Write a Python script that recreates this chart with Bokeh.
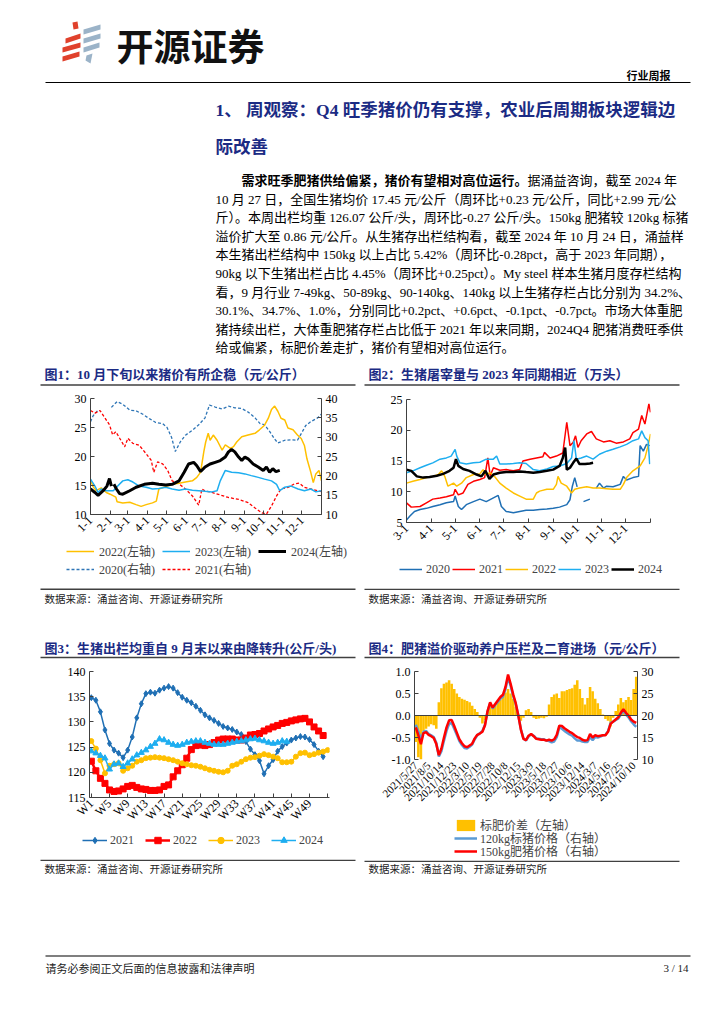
import math
from bokeh.plotting import figure
from bokeh.models import Range1d, LinearAxis, FixedTicker, Legend, LegendItem, Span, NumeralTickFormatter
from bokeh.layouts import column, row
from bokeh.core.properties import value
from bokeh.embed import file_html
from bokeh.resources import INLINE

NAN = float("nan")

# ---------------- Chart 1: daily pig price (day of year) ----------------
C1_TICKS = [0, 31, 59, 90, 120, 151, 181, 212, 243, 273, 304, 334, 365]
C1_LABELS = ["1-1", "2-1", "3-1", "4-1", "5-1", "6-1", "7-1", "8-1", "9-1", "10-1", "11-1", "12-1", ""]
D2020 = [0, 4, 12, NAN, 33, 42, 51, 62, 72, 82, 93, 103, 114, 121, 128, 134, 142, 150, 161, 171, 181, 188, 197, 208, 218, 228, 239, 249, 260, 268, 275, 283, 291, 296, 307, 317, 327, 335, 340, 348, 359, 365]
V2020 = [34.0, 35.5, 37.0, NAN, 37.7, 39.2, 38.5, 37.0, 36.8, 36.0, 34.8, 33.8, 33.5, 32.5, 30.0, 26.3, 28.8, 30.5, 31.8, 33.2, 35.0, 38.3, 37.8, 37.3, 38.0, 37.6, 37.4, 36.5, 35.0, 33.5, 33.2, 31.5, 29.5, 28.5, 29.2, 29.3, 29.2, 31.5, 33.0, 34.0, 35.0, 36.0]
D2021 = [0, 7, 15, 23, 30, 35, 40, 48, 54, 59, 67, 77, 88, 96, 100, 106, 114, 122, 129, 140, 150, 161, 171, 176, 181, 192, 202, 218, 234, 249, 260, 271, 278, 286, 294, 301, 312, 322, 330, 338, 348, 359, 365]
V2021 = [36.9, 36.2, 36.9, 34.9, 33.2, 30.6, 31.4, 29.2, 27.5, 29.7, 28.4, 27.9, 25.7, 24.0, 20.9, 23.6, 23.1, 21.4, 18.7, 17.9, 16.6, 14.8, 12.4, 16.6, 16.1, 15.7, 15.2, 14.4, 13.9, 13.1, 11.7, 10.4, 10.1, 12.2, 14.8, 16.6, 17.0, 17.9, 18.1, 17.0, 16.6, 16.1, 15.9]
D2022 = [0, 4, 9, 17, 25, 31, 40, 42, 51, 62, 72, 80, 88, 98, 104, 108, 119, 129, 140, 150, 161, 168, 174, 179, 182, 186, 189, 194, 200, 208, 213, 221, 226, 231, 239, 249, 260, 267, 275, 281, 286, 291, 296, 301, 307, 312, 320, 327, 333, 338, 342, 348, 352, 356, 361, 365]
V2022 = [16.0, 14.8, 14.1, 14.6, 13.8, 13.5, 13.0, 12.2, 12.0, 12.1, 11.7, 11.4, 11.7, 12.0, 12.3, 14.4, 14.8, 15.2, 15.4, 15.6, 15.8, 16.4, 17.3, 20.8, 22.5, 24.0, 22.8, 23.7, 22.8, 21.1, 22.0, 21.4, 21.7, 22.5, 23.4, 23.7, 24.0, 24.6, 25.4, 26.6, 28.1, 28.7, 27.8, 26.6, 26.3, 24.9, 24.6, 23.7, 23.1, 21.9, 19.6, 17.3, 15.5, 17.0, 17.6, 15.8]
D2023 = [0, 7, 12, 17, 25, 36, 43, 51, 59, 67, 77, 88, 98, 108, 119, 129, 140, 150, 161, 171, 181, 192, 200, 205, 213, 223, 234, 244, 254, 265, 275, 286, 294, 299, 307, 317, 328, 338, 348, 356, 365]
V2023 = [16.1, 14.9, 13.8, 14.4, 14.1, 14.1, 14.9, 15.8, 16.0, 15.6, 14.9, 14.7, 14.4, 14.5, 14.7, 14.4, 14.2, 14.4, 14.2, 14.1, 14.0, 13.9, 14.1, 15.8, 17.6, 17.3, 17.2, 17.0, 16.7, 16.4, 16.1, 15.8, 15.2, 14.1, 14.7, 14.9, 14.4, 14.1, 14.4, 13.9, 14.1]
D2024 = [0, 7, 12, 20, 26, 30, 33, NAN, 37, 41, 46, 51, 62, 72, 85, 98, 108, 119, 129, 140, 148, 155, 163, 168, 174, 181, 189, 197, 205, 213, 218, 223, 228, 234, 239, 244, 249, 257, 265, 273, 278, 283, 288, 293, 299]
V2024 = [14.4, 13.8, 13.3, 14.1, 14.9, 16.2, 14.9, NAN, 15.2, 14.4, 13.6, 13.5, 14.1, 14.7, 15.2, 15.4, 15.2, 15.1, 15.2, 15.8, 17.3, 18.7, 19.0, 18.4, 17.4, 18.2, 18.7, 19.0, 19.3, 19.9, 20.8, 21.2, 20.8, 19.9, 19.3, 19.9, 19.6, 18.7, 18.2, 17.6, 18.2, 17.3, 17.9, 17.4, 17.6]

# ---------------- Chart 2: slaughter volume (days from 3-1) ----------------
C2_TICKS = [0, 31, 61, 92, 122, 153, 184, 214, 245, 275, 306]
C2_LABELS = ["3-1", "4-1", "5-1", "6-1", "7-1", "8-1", "9-1", "10-1", "11-1", "12-1", ""]
E2020 = [0, 4, 10, 17, 25, 33, 42, 50, 59, 61, 65, 69, 75, 84, 92, 100, 109, 115, 119, 125, 134, 142, 150, 159, 167, 176, 184, 192, 201, 205, 208, 211, 214, NAN, 222, 230, NAN, 238, 242, 247, 251, 259, 268, 272, 276, 284, 291, 293, 297, 301, 305]
S2020 = [5.4, 6.0, 6.8, 7.1, 7.3, 7.6, 7.9, 8.2, 8.4, 9.3, 7.6, 7.1, 7.9, 8.4, 8.8, 8.4, 9.0, 9.4, 7.6, 6.8, 6.6, 6.8, 7.0, 7.0, 7.1, 7.2, 7.3, 7.5, 7.9, 8.7, 10.9, 12.3, 10.8, NAN, 8.4, 8.8, NAN, 10.6, 11.4, 10.6, 10.9, 10.8, 11.2, 12.5, 11.9, 12.3, 12.5, 17.5, 16.6, 17.7, 17.5]
E2021 = [0, 6, 17, 25, 33, 42, 50, 59, 61, 65, 71, 77, 84, 92, 98, 102, 105, 109, 117, 125, 134, 142, 146, 155, 163, 171, 173, 180, 188, 196, 201, 205, 209, 212, 215, 219, 226, 232, 238, 247, 255, 263, 272, 280, 284, 291, 295, 299, 304, 306]
S2021 = [8.2, 7.5, 7.6, 8.2, 8.8, 9.0, 9.2, 9.5, 10.4, 9.5, 9.8, 11.2, 11.7, 12.0, 12.3, 15.5, 12.6, 13.9, 13.5, 13.6, 13.4, 13.6, 15.0, 15.3, 15.5, 15.7, 16.4, 15.5, 15.8, 16.3, 21.3, 17.5, 18.0, 19.1, 17.2, 18.3, 19.4, 19.8, 18.6, 18.1, 18.3, 17.9, 18.1, 18.6, 19.6, 20.2, 22.4, 21.0, 24.3, 22.9]
E2022 = [0, 8, 17, 25, 33, 40, 44, 48, 52, 59, 63, 69, 75, 84, 92, 96, 99, 105, 111, 117, 125, 134, 142, 150, 159, 163, 167, 176, 184, 188, 190, 194, 201, 207, 211, 217, 226, 234, 242, 251, 259, 268, 272, 276, 284, 293, 299, 303, 306]
S2022 = [11.4, 11.7, 12.0, 12.3, 12.5, 12.8, 13.4, 12.5, 10.9, 11.4, 10.9, 11.4, 12.3, 12.8, 12.9, 13.6, 12.8, 13.1, 12.4, 11.4, 10.6, 9.8, 9.3, 8.8, 8.8, 9.8, 10.1, 10.4, 10.4, 11.2, 12.5, 11.4, 10.9, 9.8, 10.4, 10.6, 10.8, 10.6, 10.6, 10.5, 10.4, 10.4, 11.2, 12.3, 13.4, 14.2, 15.5, 17.5, 19.4]
E2023 = [0, 8, 17, 25, 33, 42, 50, 56, 61, 63, 67, 75, 84, 92, 100, 109, 113, 117, 125, 134, 142, 150, 159, 167, 176, 184, 192, 201, 207, 210, 213, 219, 226, 234, 242, 251, 259, 268, 276, 284, 291, 295, 299, 303, 305]
S2023 = [13.1, 13.4, 13.9, 14.3, 14.7, 15.3, 15.5, 15.8, 16.9, 15.8, 14.7, 14.5, 14.7, 14.8, 15.3, 15.3, 15.8, 14.5, 14.5, 14.6, 14.7, 14.6, 13.6, 13.4, 13.7, 14.1, 14.2, 14.6, 15.5, 18.3, 15.3, 15.5, 15.8, 15.3, 16.1, 16.6, 16.9, 17.3, 17.7, 18.3, 18.6, 19.9, 18.8, 18.3, 14.5]
E2024 = [0, 6, 13, 21, 29, 38, 46, 54, 59, 62, 65, 71, 79, 88, 94, 99, 104, 109, 117, 125, 134, 142, 150, 159, 167, 176, 184, 192, 196, 199, 201, 205, 209, 213, 217, 224, 230, 234]
S2024 = [13.6, 13.4, 12.5, 12.3, 12.4, 12.6, 12.9, 13.4, 13.9, 15.3, 14.2, 13.7, 13.4, 12.8, 12.5, 13.4, 12.1, 12.8, 13.1, 13.2, 13.2, 13.3, 13.2, 13.1, 13.2, 13.4, 13.6, 14.2, 15.5, 17.2, 13.6, 13.9, 14.7, 15.4, 14.5, 14.5, 14.6, 14.7]

# ---------------- Chart 3: weekly average slaughter weight ----------------
C3_TICKS = [1, 5, 9, 13, 17, 21, 25, 29, 33, 37, 41, 45, 49, 53]
C3_LABELS = ["W1", "W5", "W9", "W13", "W17", "W21", "W25", "W29", "W33", "W37", "W41", "W45", "W49", ""]
W2021 = [134.8, 134.3, 132.0, 128.4, 125.7, 124.4, 123.8, 122.9, 124.4, 127.0, 130.8, 133.6, 135.6, 135.9, 135.7, 136.3, 136.7, 137.0, 136.7, 135.8, 134.9, 134.3, 133.8, 133.1, 132.3, 131.4, 130.8, 130.3, 129.7, 129.1, 128.8, 128.5, 128.0, 127.5, 126.1, 124.6, 123.5, 122.3, 119.7, 121.3, 122.5, 124.2, 125.1, 125.8, 126.4, 126.8, 127.1, 127.0, 126.5, 125.5, 124.2, 123.1]
W2022 = [122.2, 120.3, 118.8, 117.8, 116.5, 116.2, 116.3, 116.7, 117.2, 117.4, 117.0, 116.7, 116.6, 116.4, 116.4, 116.5, 117.2, 117.5, 119.1, 120.3, 121.5, 122.8, 124.5, 125.3, 125.4, 125.3, 125.5, 125.9, 126.4, 126.6, 126.6, 126.6, 126.4, 126.4, 126.8, 127.4, 127.5, 127.7, 128.2, 128.6, 129.0, 129.3, 129.7, 129.9, 130.2, 130.4, 130.6, 130.7, 130.0, 129.0, 128.2, 127.3]
W2023 = [126.2, 124.7, 122.4, 119.8, 121.3, 121.6, 121.8, 120.3, 120.8, 121.3, 122.1, 122.4, 122.8, 122.9, 123.0, 122.9, 122.8, 122.6, 122.4, 122.1, 121.8, 121.6, 121.4, 121.3, 121.1, 120.8, 120.5, 120.3, 120.1, 120.0, 120.3, 121.3, 121.6, 122.1, 122.6, 122.9, 123.0, 123.3, 123.6, 123.4, 123.1, 122.8, 122.0, 122.0, 122.1, 123.1, 123.8, 123.9, 123.4, 123.6, 123.9, 124.1, 124.4]
W2024 = [124.2, 123.8, 123.3, 122.8, 120.6, 121.6, 121.8, 121.1, 121.8, 122.6, 123.4, 123.9, 124.4, 125.1, 125.7, 126.6, 126.4, 125.9, 125.5, 125.3, 125.5, 125.9, 126.1, 126.2, 126.2, 125.9, 125.7, 125.5, 125.5, 125.5, 125.7, 125.9, 126.1, 126.2, 126.4, 126.6, 126.7, 126.4, 126.2, 125.9, 125.7, 125.9, 126.2, 126.1]

# ---------------- Chart 4: fat/standard spread (weekly index, sampled every 2 weeks) ----------------
C4_TICKS = [0, 10, 20, 30, 40, 50, 60, 70, 80, 90, 100, 110, 120, 130, 140, 150, 160, 170]
C4_LABELS = ["2021/5/27", "2021/8/5", "2021/10/14", "2021/12/23", "2022/3/10", "2022/5/19", "2022/7/28", "2022/10/8", "2022/12/15", "2023/3/9", "2023/5/18", "2023/7/27", "2023/10/6", "2023/12/14", "2024/3/7", "2024/5/16", "2024/7/25", "2024/10/10"]
IDX4 = list(range(0, 173, 2))
SPREAD = [-0.6, -0.95, -1.0, -0.35, -0.3, -0.25, -0.2, -0.22, -0.3, 0.3,
          0.62, 0.72, 0.75, 0.8, 0.72, 0.6, 0.5, 0.42, 0.38, 0.36,
          0.33, 0.3, 0.22, 0.15, 0.08, -0.05, -0.18, -0.1, 0.1, 0.2,
          0.15, 0.22, 0.3, 0.35, 0.42, 0.52, 0.6, 0.5, 0.38, 0.2,
          0.02, -0.12, -0.05, 0.12, 0.15, 0.08, -0.05, -0.08, -0.07, -0.05,
          -0.06, -0.03, 0.25, 0.42, 0.48, 0.5, 0.4, 0.55, 0.55, 0.58,
          0.6, 0.62, 0.7, 0.8, 0.6, 0.4, 0.25, 0.4, 0.65, 0.55,
          0.38, 0.28, 0.15, 0.02, -0.08, -0.12, -0.25, -0.05, 0.1, 0.25,
          0.4, 0.3, 0.35, 0.42, 0.35, 0.6, 0.88]
P150 = [17.3, 15.5, 13.5, 16.0, 16.2, 15.6, 15.3, 14.9, 13.5, 11.0,
        12.5, 15.0, 17.3, 18.9, 19.0, 17.6, 16.1, 14.6, 13.7, 13.0,
        12.8, 13.2, 13.6, 14.8, 15.6, 15.9, 16.3, 17.8, 21.0, 23.0,
        21.8, 22.6, 23.4, 24.2, 24.7, 26.5, 29.3, 27.2, 24.8, 22.8,
        20.0, 16.8, 14.7, 14.4, 15.4, 15.8, 15.3, 14.7, 14.6, 14.5,
        14.5, 14.3, 14.5, 14.3, 14.6, 15.6, 17.7, 17.6, 17.1, 16.7,
        16.3, 16.0, 15.5, 15.1, 14.9, 14.5, 14.3, 14.4, 15.8, 15.0,
        15.5, 15.3, 15.4, 15.5, 15.5, 16.3, 18.1, 18.6, 19.1, 19.6,
        20.6, 21.4, 20.6, 20.0, 19.1, 18.6, 18.3]
P120 = [17.9, 16.4, 14.5, 16.3, 16.5, 15.8, 15.5, 15.1, 13.8, 10.7,
        11.9, 14.3, 16.5, 18.1, 18.3, 17.0, 15.6, 14.2, 13.3, 12.6,
        12.5, 12.9, 13.4, 14.6, 15.5, 16.0, 16.5, 17.9, 20.9, 22.8,
        21.6, 22.4, 23.1, 23.8, 24.3, 26.0, 28.7, 26.7, 24.4, 22.6,
        20.0, 16.9, 14.8, 14.3, 15.2, 15.7, 15.4, 14.8, 14.7, 14.6,
        14.6, 14.3, 14.2, 13.9, 14.1, 15.1, 17.3, 17.0, 16.5, 16.1,
        15.7, 15.4, 14.8, 14.3, 14.3, 14.1, 14.0, 14.0, 15.1, 14.4,
        15.1, 15.0, 15.2, 15.5, 15.6, 16.4, 18.3, 18.6, 19.0, 19.3,
        20.2, 21.1, 20.2, 19.6, 18.7, 18.0, 17.4]

# ---------------- texts ----------------
HEAD1 = "1、 周观察：Q4 旺季猪价仍有支撑，农业后周期板块逻辑边"
HEAD2 = "际改善"
PARA_BOLD = "需求旺季肥猪供给偏紧，猪价有望相对高位运行。"
PARA_FIRST = "据涌益咨询，截至 2024 年"
PARA_LINES = [
    "10 月 27 日，全国生猪均价 17.45 元/公斤（周环比+0.23 元/公斤，同比+2.99 元/公",
    "斤）。本周出栏均重 126.07 公斤/头，周环比-0.27 公斤/头。150kg 肥猪较 120kg 标猪",
    "溢价扩大至 0.86 元/公斤。从生猪存出栏结构看，截至 2024 年 10 月 24 日，涌益样",
    "本生猪出栏结构中 150kg 以上占比 5.42%（周环比-0.28pct，高于 2023 年同期），",
    "90kg 以下生猪出栏占比 4.45%（周环比+0.25pct）。My steel 样本生猪月度存栏结构",
    "看，9 月行业 7-49kg、50-89kg、90-140kg、140kg 以上生猪存栏占比分别为 34.2%、",
    "30.1%、34.7%、1.0%，分别同比+0.2pct、+0.6pct、-0.1pct、-0.7pct。市场大体重肥",
    "猪持续出栏，大体重肥猪存栏占比低于 2021 年以来同期，2024Q4 肥猪消费旺季供",
    "给或偏紧，标肥价差走扩，猪价有望相对高位运行。",
]
TITLES = ["图1：10 月下旬以来猪价有所企稳（元/公斤）",
          "图2：生猪屠宰量与 2023 年同期相近（万头）",
          "图3：生猪出栏均重自 9 月末以来由降转升(公斤/头)",
          "图4：肥猪溢价驱动养户压栏及二育进场（元/公斤）"]
SOURCE = "数据来源：涌益咨询、开源证券研究所"

SERIF = "Liberation Serif, Noto Sans CJK SC"
SANS = "Noto Sans CJK SC"
NAVY = "#1B2B84"
AX = "#404040"


def noalign(p):
    if "frame_align" in p.properties():
        p.frame_align = False
    return p


def canvas(x0, x1, y0, y1):
    p = figure(width=x1 - x0, height=y1 - y0, x_range=Range1d(x0, x1), y_range=Range1d(y1, y0),
               x_axis_type=None, y_axis_type=None, toolbar_location=None,
               output_backend="svg", min_border=0)
    p.outline_line_color = None
    return noalign(p)


def txt(p, x, y, s, size, color="#000000", bold=False, font=SANS, align="left"):
    p.text(x=[x], y=[y], text=[s], text_font=value(font), text_font_size=value("%spx" % size),
           text_font_style="bold" if bold else "normal", text_color=color,
           text_align=align, text_baseline="middle")


def rule(p, x0, x1, y, color, w):
    p.line(x=[x0, x1], y=[y, y], line_color=color, line_width=w)


def style_axis(ax, size="12px"):
    ax.axis_line_color = AX
    ax.major_tick_line_color = AX
    ax.major_tick_in = 4
    ax.major_tick_out = 0
    ax.minor_tick_line_color = None
    ax.major_label_standoff = 4
    ax.major_label_text_font = "Liberation Serif"
    ax.major_label_text_font_size = size
    ax.major_label_text_color = "#000000"


def chart(w, h, xr, yr, ml, mr, mt, mb):
    p = figure(width=w, height=h, x_range=xr, y_range=yr, toolbar_location=None,
               output_backend="svg", min_border_left=ml, min_border_right=mr,
               min_border_top=mt, min_border_bottom=mb)
    p.xgrid.visible = False
    p.ygrid.visible = False
    p.outline_line_color = None
    return noalign(p)


def legend_canvas(w, h, left):
    f = figure(width=w, height=h, x_range=Range1d(0, 1), y_range=Range1d(0, 1),
               x_axis_type=None, y_axis_type=None, toolbar_location=None, output_backend="svg",
               min_border_left=left, min_border_right=0, min_border_top=0, min_border_bottom=0)
    f.outline_line_color = None
    return noalign(f)


# legend key glyphs sit outside the (0, 1) ranges of the legend canvas, so only the keys show
KEY_X = [5, 6]
KEY_Y = [5, 5]


def add_legend(f, items, loc, orient, gw, gh, lw, st):
    lg = Legend(items=items, location=loc, orientation=orient, spacing=0, padding=0, margin=0,
                border_line_color=None, background_fill_alpha=0,
                glyph_width=gw, glyph_height=gh, label_height=gh, label_width=lw,
                label_standoff=st, label_text_font=SERIF, label_text_font_size="12px")
    f.add_layout(lg)


# ================= top block (page coordinates) =================
top = canvas(0, 716, 0, 365)
top.patches(xs=[[72, 77, 78, 73], [65, 80, 80, 65], [62, 80, 80, 62], [62, 79, 79, 62]],
            ys=[[22, 21, 28, 29], [38, 33, 38, 43], [47, 42, 47, 52], [56, 51, 56, 61]],
            fill_color="#E0412C", line_color=None)
top.patches(xs=[[83, 100, 100, 83], [83, 100, 100, 83], [83, 99, 99, 83], [86, 92, 90, 85]],
            ys=[[29, 24, 29, 34], [38, 33, 38, 43], [47, 42, 47, 52], [55, 53, 63, 60]],
            fill_color="#9BB3C8", line_color=None)
txt(top, 116, 44, "开源证券", 37, "#111111", True)
txt(top, 670, 74, "行业周报", 11, "#000000", True, align="right")
rule(top, 45, 690, 82, "#000000", 1.2)
txt(top, 215, 109, HEAD1, 17.5, NAVY, True, SERIF)
txt(top, 215, 146, HEAD2, 17.5, NAVY, True, SERIF)
txt(top, 241, 180, PARA_BOLD, 13, "#000000", True, SERIF)
txt(top, 527, 180, PARA_FIRST, 13, "#000000", False, SERIF)
for i, s in enumerate(PARA_LINES):
    txt(top, 215, 180 + 18.6 * (i + 1), s, 13, "#000000", False, SERIF)


def title_fig(x0, x1, y0, y1, tx, ty, ly, t):
    f = canvas(x0, x1, y0, y1)
    txt(f, tx, ty, t, 13, NAVY, True, SERIF)
    rule(f, tx - 4, tx + 311, ly, AX, 1.5)
    return f


def source_fig(x0, x1, y0, y1, tx, ly, ty):
    f = canvas(x0, x1, y0, y1)
    rule(f, tx - 4, tx + 311, ly, AX, 1.5)
    txt(f, tx, ty, SOURCE, 10.5, "#222222")
    return f


# ================= Chart 1 =================
C1_STYLE = {"2020": ("#2E75B6", 1.3, "3 2", "r"), "2021": ("#FF0000", 1.3, "3 2", "r"),
            "2022": ("#FFC000", 1.5, "solid", "default"), "2023": ("#1EAEF0", 1.5, "solid", "default"),
            "2024": ("#000000", 3.0, "solid", "default")}
C1_DATA = {"2020": (D2020, V2020), "2021": (D2021, V2021), "2022": (D2022, V2022),
           "2023": (D2023, V2023), "2024": (D2024, V2024)}
p1 = chart(362, 150, Range1d(0, 365), Range1d(10, 30), 90, 41, 6, 28)
p1.extra_y_ranges = {"r": Range1d(10, 40)}
p1.add_layout(LinearAxis(y_range_name="r"), "right")
p1.yaxis[0].ticker = FixedTicker(ticks=[10, 15, 20, 25, 30])
p1.yaxis[1].ticker = FixedTicker(ticks=[10, 15, 20, 25, 30, 35, 40])
p1.xaxis.ticker = FixedTicker(ticks=C1_TICKS)
p1.xaxis.major_label_overrides = dict(zip(C1_TICKS, C1_LABELS))
p1.xaxis.major_label_orientation = math.pi / 4
for a in p1.axis:
    style_axis(a)
for k in ["2020", "2021", "2022", "2023", "2024"]:
    c, w, d, rn = C1_STYLE[k]
    p1.line(C1_DATA[k][0], C1_DATA[k][1], y_range_name=rn, line_color=c, line_width=w, line_dash=d)

lg1 = legend_canvas(362, 36, 66)
keys1 = {}
for k in ["2020", "2021", "2022", "2023", "2024"]:
    c, w, d, rn = C1_STYLE[k]
    keys1[k] = lg1.line(x=KEY_X, y=KEY_Y, line_color=c, line_width=w, line_dash=d)
add_legend(lg1, [LegendItem(label=k + "(左轴)", renderers=[keys1[k]]) for k in ["2022", "2023", "2024"]],
           "top_left", "horizontal", 28, 18, 63, 5)
add_legend(lg1, [LegendItem(label=k + "(右轴)", renderers=[keys1[k]]) for k in ["2020", "2021"]],
           "bottom_left", "horizontal", 28, 18, 63, 5)

# ================= Chart 2 =================
C2_KEYS = ["2020", "2021", "2022", "2023", "2024"]
C2_COLORS = ["#1F6FB4", "#FF0000", "#FFC000", "#1EAEF0", "#000000"]
C2_WIDTHS = [1.5, 1.5, 1.5, 1.5, 2.5]
C2_DATA = [(E2020, S2020), (E2021, S2021), (E2022, S2022), (E2023, S2023), (E2024, S2024)]
p2 = chart(354, 169, Range1d(0, 306), Range1d(5, 25), 44, 66, 7, 39)
p2.yaxis.ticker = FixedTicker(ticks=[5, 10, 15, 20, 25])
p2.xaxis.ticker = FixedTicker(ticks=C2_TICKS)
p2.xaxis.major_label_overrides = dict(zip(C2_TICKS, C2_LABELS))
p2.xaxis.major_label_orientation = math.pi / 4
for a in p2.axis:
    style_axis(a)
for (xs, ys), c, w in zip(C2_DATA, C2_COLORS, C2_WIDTHS):
    p2.line(xs, ys, line_color=c, line_width=w)

lg2 = legend_canvas(354, 27, 37)
add_legend(lg2, [LegendItem(label=k, renderers=[lg2.line(x=KEY_X, y=KEY_Y, line_color=c, line_width=w)])
                 for k, c, w in zip(C2_KEYS, C2_COLORS, C2_WIDTHS)],
           "top_left", "horizontal", 23, 16, 26, 4)

# ================= Chart 3 =================
WK21 = list(range(1, len(W2021) + 1))
WK22 = list(range(1, len(W2022) + 1))
WK23 = list(range(1, len(W2023) + 1))
WK24 = list(range(1, len(W2024) + 1))
C3_SERIES = [("2021", WK21, W2021, "#1F6FB4", "diamond", 1.5, 6),
             ("2022", WK22, W2022, "#FF0000", "square", 2.5, 6),
             ("2023", WK23, W2023, "#FFC000", "circle", 1.5, 5),
             ("2024", WK24, W2024, "#1EAEF0", "triangle", 1.5, 6)]
p3 = chart(362, 170, Range1d(0.6, 53.4), Range1d(115, 140), 89, 33, 9, 35)
p3.yaxis.ticker = FixedTicker(ticks=[115, 120, 125, 130, 135, 140])
p3.xaxis.ticker = FixedTicker(ticks=C3_TICKS)
p3.xaxis.major_label_overrides = dict(zip(C3_TICKS, C3_LABELS))
p3.xaxis.major_label_orientation = math.pi / 4
for a in p3.axis:
    style_axis(a)
for lab, xs, ys, col, mk, lw, ms in C3_SERIES:
    p3.line(xs, ys, line_color=col, line_width=lw)
    p3.scatter(xs, ys, marker=mk, size=ms, fill_color=col, line_color=col)

lg3 = legend_canvas(362, 27, 82)
items3 = []
for lab, xs, ys, col, mk, lw, ms in C3_SERIES:
    rl = lg3.line(x=KEY_X, y=KEY_Y, line_color=col, line_width=lw)
    rs = lg3.scatter(x=KEY_X, y=KEY_Y, marker=mk, size=ms, fill_color=col, line_color=col)
    items3.append(LegendItem(label=lab, renderers=[rl, rs]))
add_legend(lg3, items3, "top_left", "horizontal", 25, 16, 35, 3)

# ================= Chart 4 =================
p4 = chart(354, 154, Range1d(-1, 173), Range1d(-1, 1), 52, 79, 9, 57)
p4.extra_y_ranges = {"r": Range1d(10, 30)}
p4.add_layout(LinearAxis(y_range_name="r"), "right")
p4.yaxis[0].ticker = FixedTicker(ticks=[-1, -0.5, 0, 0.5, 1])
p4.yaxis[0].formatter = NumeralTickFormatter(format="0.0")
p4.yaxis[1].ticker = FixedTicker(ticks=[10, 15, 20, 25, 30])
p4.xaxis.ticker = FixedTicker(ticks=C4_TICKS)
p4.xaxis.major_label_overrides = dict(zip(C4_TICKS, C4_LABELS))
p4.xaxis.major_label_orientation = math.pi / 4
for a in p4.axis:
    style_axis(a)
p4.xaxis.axis_line_color = None
p4.xaxis.major_tick_line_color = None
p4.xaxis.major_label_text_font_size = "11px"
p4.vbar(x=IDX4, top=SPREAD, bottom=0, width=2, fill_color="#FFC000", line_color=None)
p4.add_layout(Span(location=0, dimension="width", line_color=AX, line_width=1))
p4.line(IDX4, P120, y_range_name="r", line_color="#5B9BD5", line_width=2.5)
p4.line(IDX4, P150, y_range_name="r", line_color="#FF0000", line_width=2.5)

lg4 = legend_canvas(354, 44, 92)
kb = lg4.vbar(x=[5], top=[5], width=1, fill_color="#FFC000", line_color=None)
k120 = lg4.line(x=KEY_X, y=KEY_Y, line_color="#5B9BD5", line_width=2.5)
k150 = lg4.line(x=KEY_X, y=KEY_Y, line_color="#FF0000", line_width=2.5)
add_legend(lg4, [LegendItem(label="标肥价差（左轴）", renderers=[kb])], "top_left", "vertical", 23, 14, 20, 3)
add_legend(lg4, [LegendItem(label="120kg标猪价格（右轴）", renderers=[k120])], "left", "vertical", 23, 14, 20, 3)
add_legend(lg4, [LegendItem(label="150kg肥猪价格（右轴）", renderers=[k150])], "bottom_left", "vertical", 23, 14, 20, 3)

# ================= assemble =================
t1 = title_fig(0, 362, 365, 392, 44, 374, 384.5, TITLES[0])
t2 = title_fig(362, 716, 365, 392, 368, 374, 384.5, TITLES[1])
s1 = source_fig(0, 362, 578, 610, 44, 588.8, 598)
s2 = source_fig(362, 716, 588, 610, 368, 588.8, 598)
t3 = title_fig(0, 362, 610, 662, 44, 648, 657, TITLES[2])
t4 = title_fig(362, 716, 610, 662, 368, 648, 657, TITLES[3])
s3 = source_fig(0, 362, 859, 912, 44, 859.8, 868)
s4 = source_fig(362, 716, 860, 912, 368, 860.8, 868)

foot = canvas(0, 716, 912, 1010)
rule(foot, 45, 690, 955.5, "#7F7F7F", 2)
txt(foot, 45, 967, "请务必参阅正文后面的信息披露和法律声明", 11, "#222222")
txt(foot, 688, 967, "3 / 14", 11, "#222222", False, SERIF, align="right")

page = column(top,
              row(column(t1, p1, lg1, s1), column(t2, p2, lg2, s2)),
              row(column(t3, p3, lg3, s3), column(t4, p4, lg4, s4)),
              foot)

open("out.html", "w", encoding="utf-8").write(file_html(page, INLINE, title="行业周报"))
